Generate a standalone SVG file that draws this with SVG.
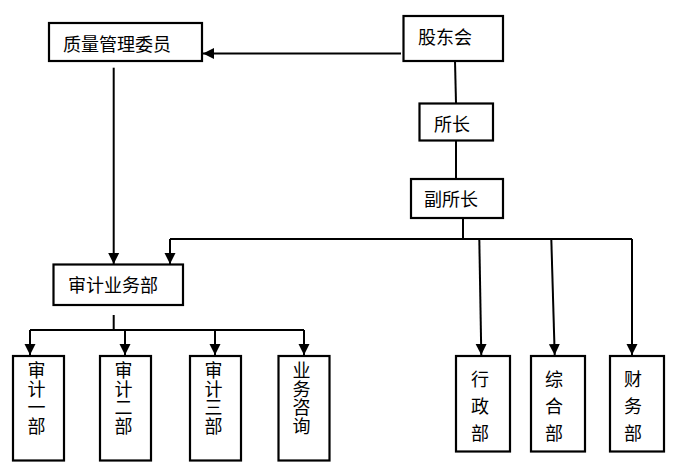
<svg xmlns="http://www.w3.org/2000/svg" width="676" height="466" viewBox="0 0 676 466">
<style>
.box{fill:#fff;stroke:#000;stroke-width:2.2}
.t{font-family:"Noto Sans CJK SC","Noto Sans CJK TC",sans-serif;font-size:18px;fill:#000}
.v{font-family:"Noto Sans CJK SC","Noto Sans CJK TC",sans-serif;font-size:18px;fill:#000;text-anchor:middle}
.c{fill:none;stroke:#000;stroke-width:2}
.a{fill:none;stroke:#000;stroke-width:2;marker-end:url(#ah)}
</style>
<defs>
<marker id="ah" markerUnits="userSpaceOnUse" markerWidth="12" markerHeight="12" viewBox="0 0 12 12" refX="11" refY="6" orient="auto">
<path d="M0,0.5 L11,6 L0,11.5 z" fill="#000"/>
</marker>
</defs>
<rect width="676" height="466" fill="#fff"/>
<g id="connectors">
<line class="a" x1="401" y1="53.5" x2="203" y2="53.5"/>
<line class="c" x1="455" y1="61" x2="456" y2="103"/>
<line class="c" x1="456" y1="141" x2="456" y2="179"/>
<line class="c" x1="463" y1="218" x2="463" y2="239"/>
<path class="c" d="M170,239 H632"/>
<line class="a" x1="170" y1="239" x2="170" y2="264"/>
<line class="a" x1="632" y1="239" x2="632" y2="355"/>
<line class="a" x1="479.3" y1="239" x2="481.3" y2="355"/>
<line class="a" x1="551.3" y1="239" x2="554.7" y2="355"/>
<line class="a" x1="113.7" y1="67.7" x2="113.7" y2="264"/>
<line class="c" x1="113.7" y1="315" x2="113.7" y2="330"/>
<path class="c" d="M30,330 H304"/>
<line class="a" x1="30" y1="330" x2="30" y2="355"/>
<line class="a" x1="125" y1="330" x2="125" y2="355"/>
<line class="a" x1="215" y1="330" x2="215" y2="355"/>
<line class="a" x1="304" y1="330" x2="304" y2="355"/>
</g>
<g id="zlgl">
<rect class="box" x="49" y="23" width="153" height="38"/>
<text class="t" x="63" y="51">质量管理委员</text>
</g>
<g id="gdh">
<rect class="box" x="403.5" y="16" width="99.5" height="45"/>
<text class="t" x="418" y="44">股东会</text>
</g>
<g id="sz">
<rect class="box" x="419.5" y="103.5" width="73.5" height="37"/>
<text class="t" x="434" y="131">所长</text>
</g>
<g id="fsz">
<rect class="box" x="411" y="179" width="92" height="39"/>
<text class="t" x="424" y="206">副所长</text>
</g>
<g id="sjywb">
<rect class="box" x="53.5" y="264.5" width="129.5" height="40.5"/>
<text class="t" x="68" y="292">审计业务部</text>
</g>
<g id="sj1">
<rect class="box" x="13" y="356" width="51" height="104.5"/>
<text class="v" x="36.5" y="377">审</text>
<text class="v" x="36.5" y="395.5">计</text>
<text class="v" x="36.5" y="414">一</text>
<text class="v" x="36.5" y="432.5">部</text>
</g>
<g id="sj2">
<rect class="box" x="100" y="356" width="51" height="104.5"/>
<text class="v" x="123.5" y="377">审</text>
<text class="v" x="123.5" y="395.5">计</text>
<text class="v" x="123.5" y="414">二</text>
<text class="v" x="123.5" y="432.5">部</text>
</g>
<g id="sj3">
<rect class="box" x="190" y="356" width="51" height="104.5"/>
<text class="v" x="213.5" y="377">审</text>
<text class="v" x="213.5" y="395.5">计</text>
<text class="v" x="213.5" y="414">三</text>
<text class="v" x="213.5" y="432.5">部</text>
</g>
<g id="ywzx">
<rect class="box" x="278.5" y="356" width="51" height="104.5"/>
<text class="v" x="301.5" y="377">业</text>
<text class="v" x="301.5" y="395.5">务</text>
<text class="v" x="301.5" y="414">咨</text>
<text class="v" x="301.5" y="432.5">询</text>
</g>
<g id="xzb">
<rect class="box" x="456" y="356" width="54" height="95.5"/>
<text class="v" x="480" y="386">行</text>
<text class="v" x="480" y="412.5">政</text>
<text class="v" x="480" y="439.5">部</text>
</g>
<g id="zhb">
<rect class="box" x="531" y="356" width="54" height="95.5"/>
<text class="v" x="554" y="386">综</text>
<text class="v" x="554" y="412.5">合</text>
<text class="v" x="554" y="439.5">部</text>
</g>
<g id="cwb">
<rect class="box" x="610" y="356" width="54" height="95.5"/>
<text class="v" x="633" y="386">财</text>
<text class="v" x="633" y="412.5">务</text>
<text class="v" x="633" y="439.5">部</text>
</g>
</svg>
